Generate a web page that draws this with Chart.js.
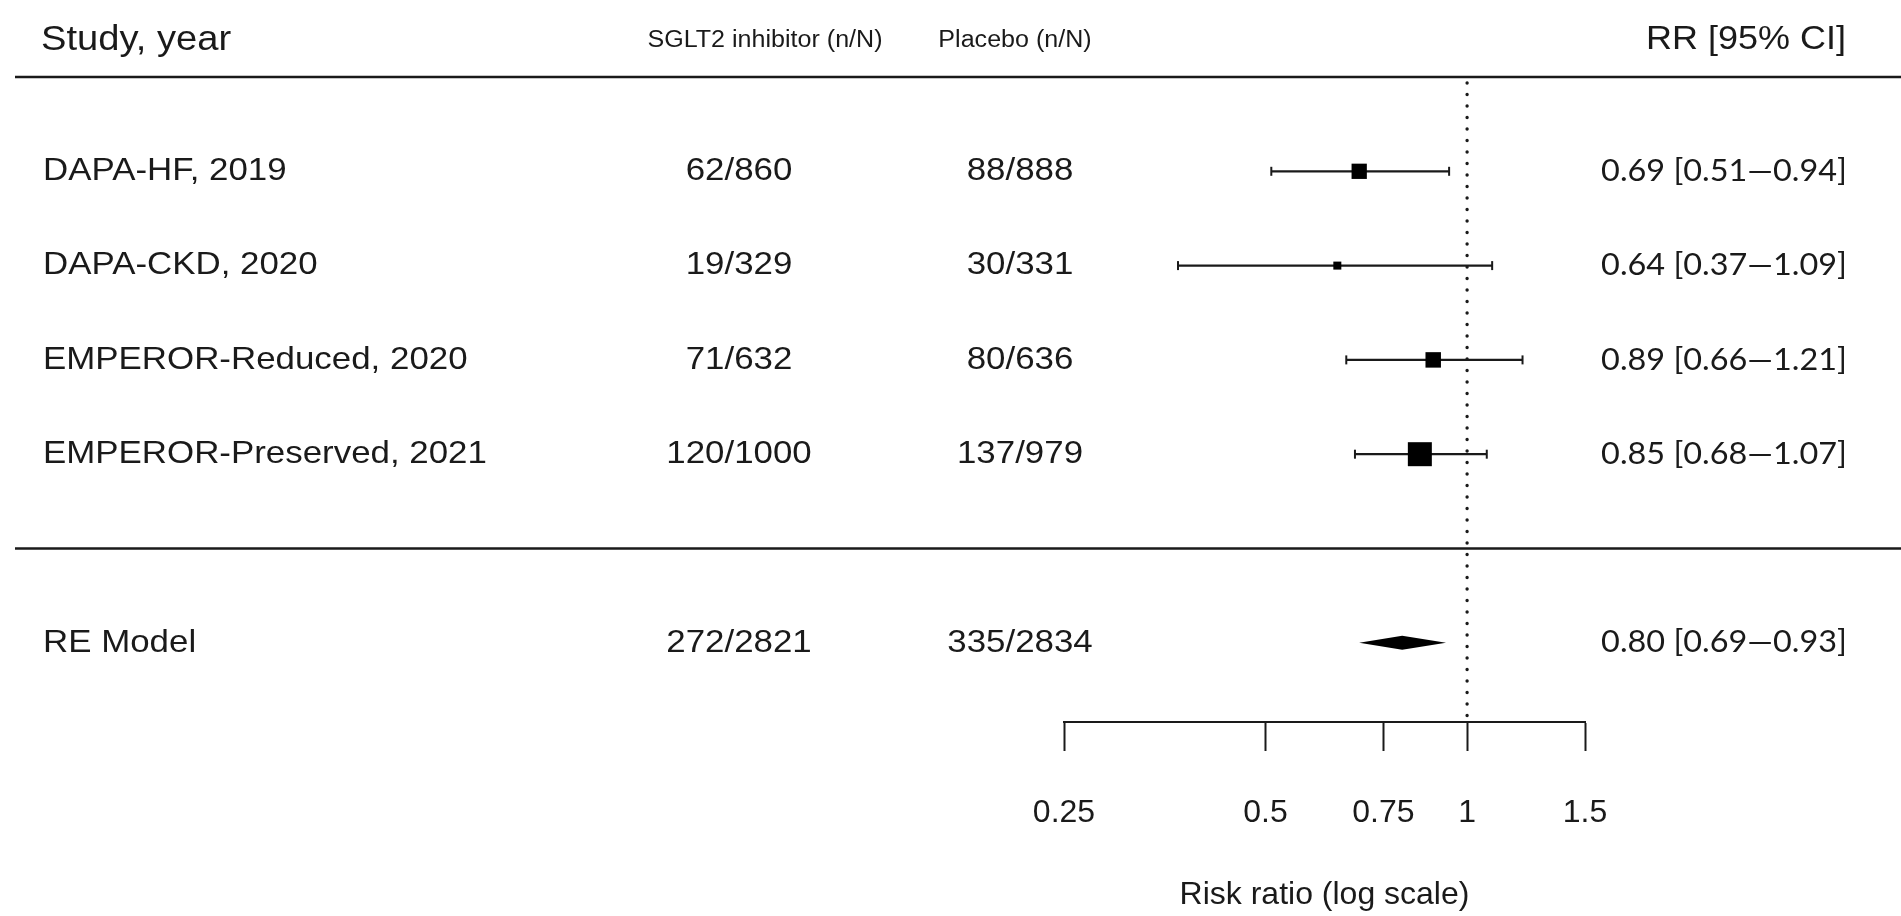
<!DOCTYPE html>
<html>
<head>
<meta charset="utf-8">
<title>Forest plot</title>
<script src="https://cdn.jsdelivr.net/npm/chart.js@4.4.0/dist/chart.umd.min.js"></script>
<style>
html, body { margin: 0; padding: 0; background: #fff; }
#wrap { position: relative; width: 1901px; height: 916px; }
</style>
</head>
<body>
<div id="wrap"><canvas id="forest"></canvas></div>
<script>
// trials, top to bottom
var studies = ["DAPA-HF, 2019", "DAPA-CKD, 2020", "EMPEROR-Reduced, 2020", "EMPEROR-Preserved, 2021"];
var sgltEvents = [62, 19, 71, 120];
var sgltTotal = [860, 329, 632, 1000];
var placeboEvents = [88, 30, 80, 137];
var placeboTotal = [888, 331, 636, 979];
var rr = [0.69, 0.64, 0.89, 0.85];
var rrLow = [0.51, 0.37, 0.66, 0.68];
var rrHigh = [0.94, 1.09, 1.21, 1.07];
var weights = [24.1, 7.7, 24.5, 43.7]; // % weight, sets box size

// random-effects summary
var pooledLabel = "RE Model";
var pooledRR = 0.80;
var pooledLow = 0.69;
var pooledHigh = 0.93;

var xTicks = [0.25, 0.5, 0.75, 1, 1.5];

var ink = "#1a1a1a";
var arial = "'Liberation Sans', Arial, sans-serif";
var calib = "Lato, 'Open Sans', sans-serif";
var squeeze = 1.09; // table text runs a bit wide

function sum(a) { return a.reduce(function (s, v) { return s + v; }, 0); }
function ci(est, lo, hi) {
  return est.toFixed(2) + " [" + lo.toFixed(2) + "\u2014" + hi.toFixed(2) + "]";
}

// rows: studies at 1..4, summary at 6, rules at 0 and 5
var studyRows = studies.map(function (s, i) { return i + 1; });
var pooledRow = 6;

var wMin = Math.min.apply(null, weights), wMax = Math.max.apply(null, weights);
var boxRadius = weights.map(function (w) {
  var side = 16 * (0.5 + (w - wMin) / (wMax - wMin));
  return side / Math.SQRT2;
});

var ciSets = studies.map(function (s, i) {
  return {
    type: "line",
    label: s,
    order: 2,
    data: [{ x: rrLow[i], y: studyRows[i] }, { x: rrHigh[i], y: studyRows[i] }],
    borderColor: ink,
    borderWidth: 2.2,
    pointStyle: "line",
    pointRotation: 90,
    pointRadius: 4.5,
    pointHoverRadius: 4.5,
    pointBorderWidth: 2,
    pointBorderColor: ink
  };
});

var boxSet = {
  type: "scatter",
  label: "RR",
  order: 1,
  data: rr.map(function (v, i) { return { x: v, y: studyRows[i] }; }),
  pointStyle: "rect",
  pointRadius: boxRadius,
  pointHoverRadius: boxRadius,
  backgroundColor: "#000",
  borderWidth: 0
};

function label(ctx, txt, x, y, align, font, sx) {
  ctx.save();
  ctx.translate(x, y);
  ctx.scale(sx, 1);
  ctx.font = font;
  ctx.fillStyle = ink;
  ctx.textAlign = align;
  ctx.textBaseline = "middle";
  ctx.fillText(txt, 0, 0);
  ctx.restore();
}

var forestExtras = {
  id: "forestExtras",
  beforeDatasetsDraw: function (chart) {
    var ctx = chart.ctx, xs = chart.scales.x, ys = chart.scales.y;
    // rules under the header and above the summary
    ctx.save();
    ctx.strokeStyle = ink;
    ctx.lineWidth = 2.6;
    [0, 5].forEach(function (r) {
      var py = ys.getPixelForValue(r);
      ctx.beginPath();
      ctx.moveTo(15, py);
      ctx.lineTo(chart.width, py);
      ctx.stroke();
    });
    // dotted line of no effect
    var px = xs.getPixelForValue(1);
    ctx.setLineDash([0.1, 11.4]);
    ctx.lineCap = "round";
    ctx.lineWidth = 3.4;
    ctx.beginPath();
    ctx.moveTo(px, ys.getPixelForValue(0) + 6);
    ctx.lineTo(px, chart.chartArea.bottom);
    ctx.stroke();
    ctx.restore();
  },
  afterDatasetsDraw: function (chart) {
    var ctx = chart.ctx, xs = chart.scales.x, ys = chart.scales.y;
    // summary diamond
    var py = ys.getPixelForValue(pooledRow);
    ctx.save();
    ctx.fillStyle = "#000";
    ctx.beginPath();
    ctx.moveTo(xs.getPixelForValue(pooledLow), py);
    ctx.lineTo(xs.getPixelForValue(pooledRR), py - 7);
    ctx.lineTo(xs.getPixelForValue(pooledHigh), py);
    ctx.lineTo(xs.getPixelForValue(pooledRR), py + 7);
    ctx.closePath();
    ctx.fill();
    ctx.restore();

    // header
    var hy = ys.getPixelForValue(-0.39);
    label(ctx, "Study, year", 41, hy, "left", "35px " + arial, squeeze);
    label(ctx, "SGLT2 inhibitor (n/N)", 765, hy, "center", "23px " + arial, squeeze);
    label(ctx, "Placebo (n/N)", 1015, hy, "center", "23px " + arial, squeeze);
    label(ctx, "RR [95% CI]", 1846, hy, "right", "33px " + arial, squeeze);

    // study rows
    studies.forEach(function (s, i) {
      var ry = ys.getPixelForValue(studyRows[i]);
      label(ctx, s, 43, ry, "left", "32px " + arial, squeeze);
      label(ctx, sgltEvents[i] + "/" + sgltTotal[i], 739, ry, "center", "32px " + arial, squeeze);
      label(ctx, placeboEvents[i] + "/" + placeboTotal[i], 1020, ry, "center", "32px " + arial, squeeze);
      label(ctx, ci(rr[i], rrLow[i], rrHigh[i]), 1847, ry, "right", "30px " + calib, 1.08);
    });

    // summary row
    label(ctx, pooledLabel, 43, py, "left", "32px " + arial, squeeze);
    label(ctx, sum(sgltEvents) + "/" + sum(sgltTotal), 739, py, "center", "32px " + arial, squeeze);
    label(ctx, sum(placeboEvents) + "/" + sum(placeboTotal), 1020, py, "center", "32px " + arial, squeeze);
    label(ctx, ci(pooledRR, pooledLow, pooledHigh), 1847, py, "right", "30px " + calib, 1.08);
  }
};

new Chart(document.getElementById("forest"), {
  data: { datasets: [boxSet].concat(ciSets) },
  options: {
    responsive: true,
    maintainAspectRatio: false,
    animation: false,
    events: [],
    layout: { padding: { left: 1064, right: 316, top: 77, bottom: 0 } },
    plugins: { legend: { display: false }, tooltip: { enabled: false } },
    scales: {
      x: {
        type: "logarithmic",
        position: "bottom",
        min: 0.25,
        max: 1.5,
        afterBuildTicks: function (s) { s.ticks = xTicks.map(function (v) { return { value: v }; }); },
        afterFit: function (s) { s.height = 194; },
        grid: { drawOnChartArea: false, drawTicks: true, tickLength: 29, tickWidth: 2, tickColor: ink },
        border: { display: true, color: ink, width: 2 },
        ticks: {
          autoSkip: false, maxRotation: 0, minRotation: 0, padding: 43, color: ink,
          font: { family: arial, size: 32 },
          callback: function (v) { return String(v); }
        },
        title: {
          display: true, text: "Risk ratio (log scale)", color: ink,
          font: { family: arial, size: 32 }, padding: { top: 0, bottom: 2 }
        }
      },
      y: { type: "linear", reverse: true, min: 0, max: 6.84, display: false }
    }
  },
  plugins: [forestExtras]
});
</script>
</body>
</html>
